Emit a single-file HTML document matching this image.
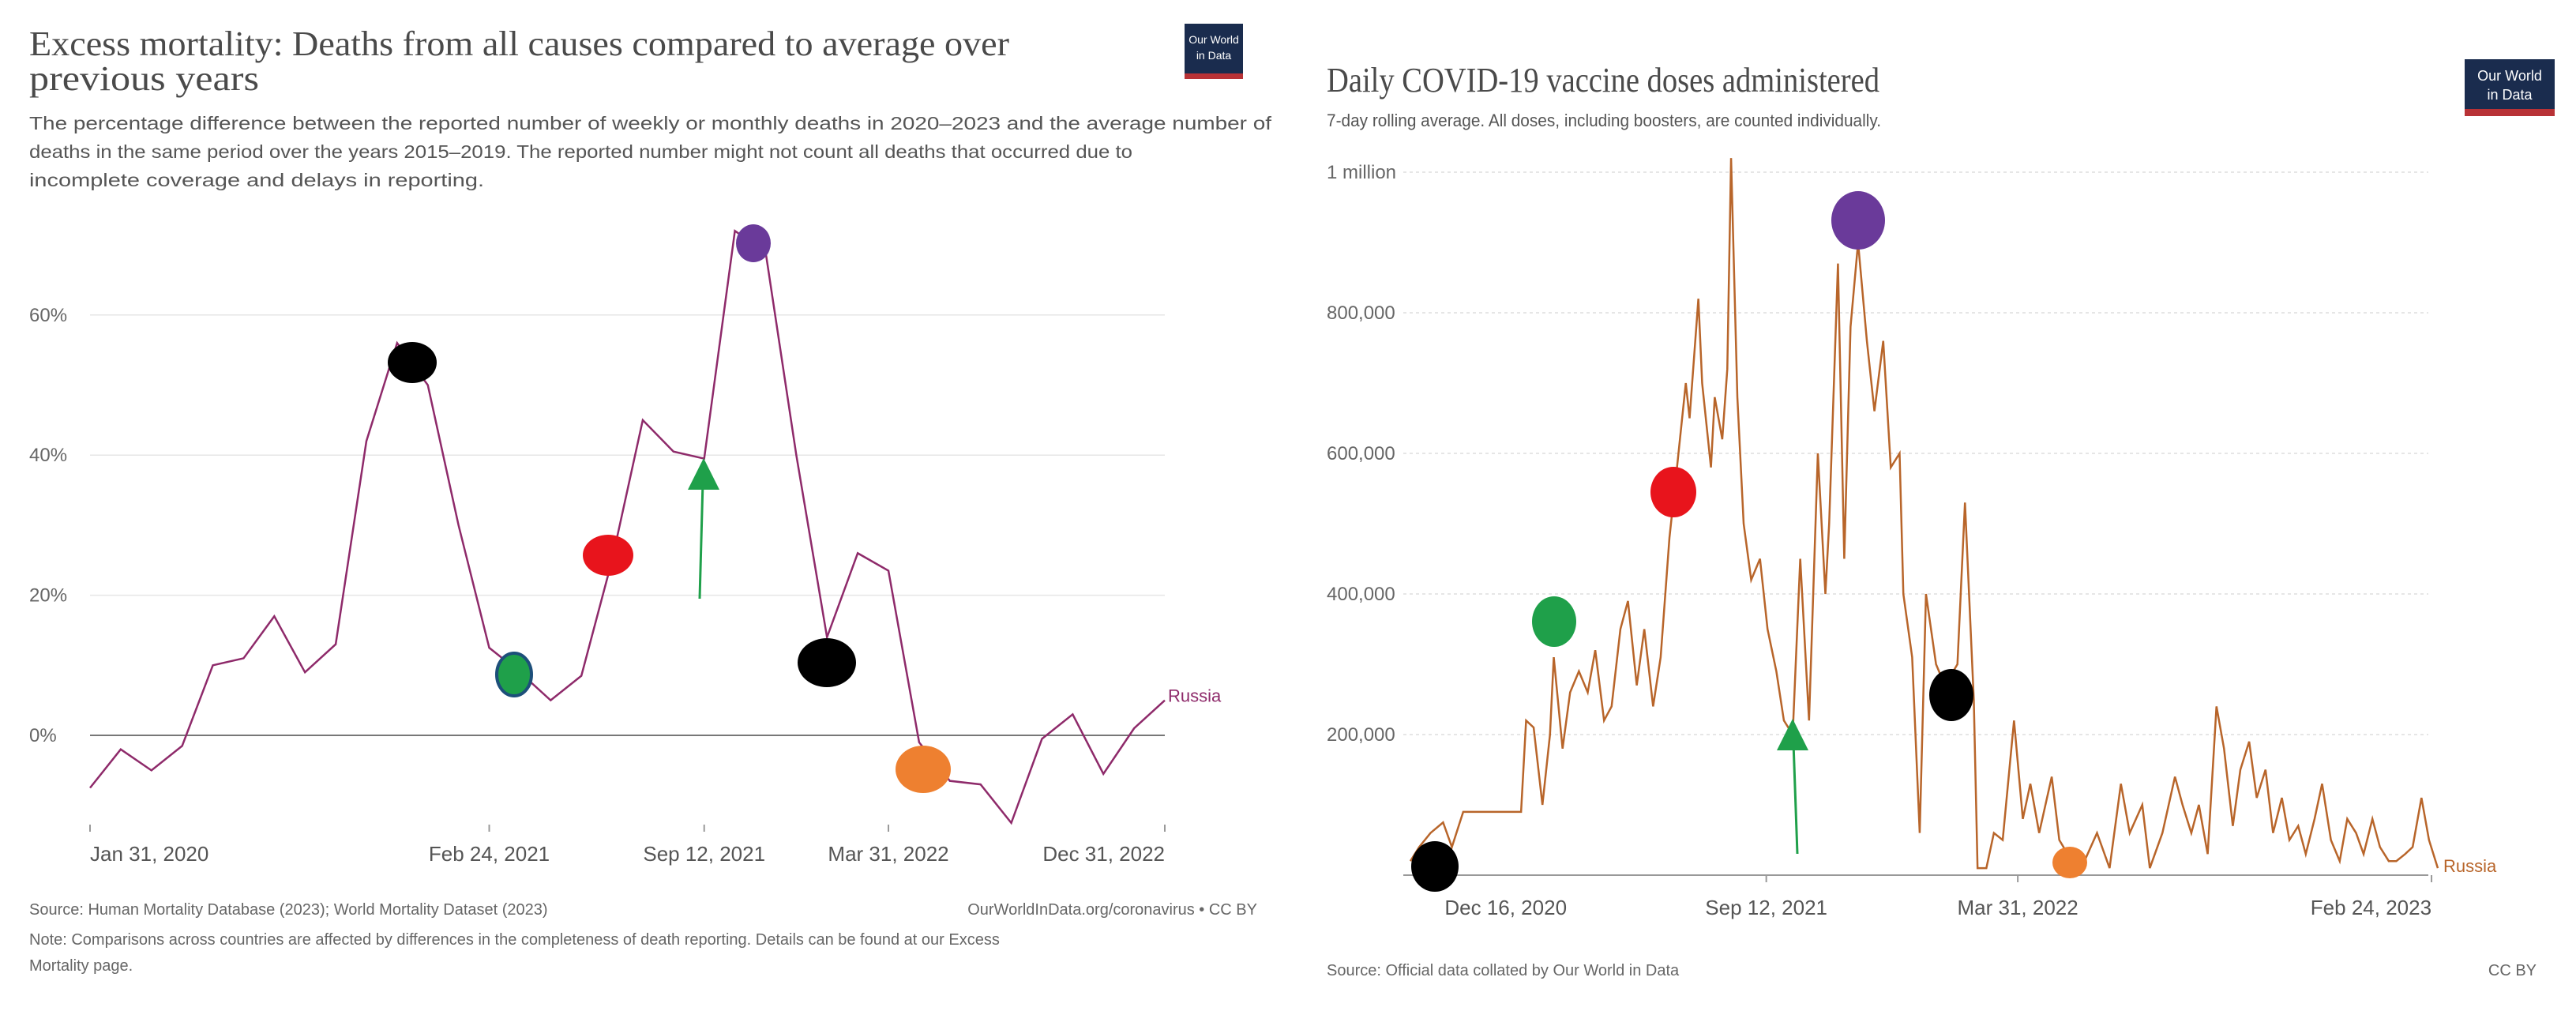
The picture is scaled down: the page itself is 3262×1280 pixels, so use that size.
<!DOCTYPE html>
<html><head><meta charset="utf-8">
<style>
html,body{margin:0;padding:0;background:#fff;}
body{width:3262px;height:1280px;position:relative;overflow:hidden;font-family:"Liberation Sans",sans-serif;}
svg{position:absolute;left:0;top:0;}
</style></head>
<body>
<svg id="c" width="3262" height="1280" viewBox="0 0 3262 1280">
  <!-- LEFT PANEL -->
  <g>
    <text x="37" y="70" font-family="Liberation Serif, serif" font-size="44" fill="#4a4a4a" textLength="1241" lengthAdjust="spacingAndGlyphs">Excess mortality: Deaths from all causes compared to average over</text>
    <text x="37" y="114" font-family="Liberation Serif, serif" font-size="44" fill="#4a4a4a" textLength="291" lengthAdjust="spacingAndGlyphs">previous years</text>
    <text x="37" y="164" font-size="23" fill="#555" textLength="1573" lengthAdjust="spacingAndGlyphs">The percentage difference between the reported number of weekly or monthly deaths in 2020–2023 and the average number of</text>
    <text x="37" y="200" font-size="23" fill="#555" textLength="1397" lengthAdjust="spacingAndGlyphs">deaths in the same period over the years 2015–2019. The reported number might not count all deaths that occurred due to</text>
    <text x="37" y="236" font-size="23" fill="#555" textLength="576" lengthAdjust="spacingAndGlyphs">incomplete coverage and delays in reporting.</text>
    <g>
      <rect x="1500" y="30" width="74" height="70" fill="#1a2c4e"/>
      <rect x="1500" y="93" width="74" height="7" fill="#b83236"/>
      <text x="1537" y="55" font-size="14" fill="#fff" text-anchor="middle">Our World</text>
      <text x="1537" y="75" font-size="14" fill="#fff" text-anchor="middle">in Data</text>
    </g>
    <g id="leftGrid"></g>
    <g id="leftPlot"></g>
    <text x="37" y="1158" font-size="20" fill="#666">Source: Human Mortality Database (2023); World Mortality Dataset (2023)</text>
    <text x="1592" y="1158" font-size="20" fill="#666" text-anchor="end">OurWorldInData.org/coronavirus • CC BY</text>
    <text x="37" y="1196" font-size="20" fill="#666">Note: Comparisons across countries are affected by differences in the completeness of death reporting. Details can be found at our Excess</text>
    <text x="37" y="1229" font-size="20" fill="#666">Mortality page.</text>
  </g>
  <!-- RIGHT PANEL -->
  <g>
    <text x="1680" y="116" font-family="Liberation Serif, serif" font-size="44" fill="#4a4a4a" textLength="700" lengthAdjust="spacingAndGlyphs">Daily COVID-19 vaccine doses administered</text>
    <text x="1680" y="160" font-size="22" fill="#555" textLength="702" lengthAdjust="spacingAndGlyphs">7-day rolling average. All doses, including boosters, are counted individually.</text>
    <g>
      <rect x="3121" y="75" width="114" height="72" fill="#1a2c4e"/>
      <rect x="3121" y="138" width="114" height="9" fill="#b83236"/>
      <text x="3178" y="102" font-size="18" fill="#fff" text-anchor="middle">Our World</text>
      <text x="3178" y="126" font-size="18" fill="#fff" text-anchor="middle">in Data</text>
    </g>
    <g id="rightGrid"></g>
    <g id="rightPlot"></g>
    <text x="1680" y="1235" font-size="20" fill="#666">Source: Official data collated by Our World in Data</text>
    <text x="3212" y="1235" font-size="20" fill="#666" text-anchor="end">CC BY</text>
  </g>
</svg>
<script>
// ---- Left chart data (monthly excess mortality %, Russia, Jan 2020 - Dec 2022)
const leftMonths = ["2020-01","2020-02","2020-03","2020-04","2020-05","2020-06","2020-07","2020-08","2020-09","2020-10","2020-11","2020-12","2021-01","2021-02","2021-03","2021-04","2021-05","2021-06","2021-07","2021-08","2021-09","2021-10","2021-11","2021-12","2022-01","2022-02","2022-03","2022-04","2022-05","2022-06","2022-07","2022-08","2022-09","2022-10","2022-11","2022-12"];
const leftValues = [-7.5,-2,-5,-1.5,10,11,17,9,13,42,56,50,30,12.5,9,5,8.5,25,45,40.5,39.5,72,69,40,14,26,23.5,-1,-6.5,-7,-12.5,-0.5,3,-5.5,1,5];
const leftYTicks = [0,20,40,60];
const leftYTickLabels = ["0%","20%","40%","60%"];
const leftXTickIdx = [0,13,20,26,35];
const leftXTickLabels = ["Jan 31, 2020","Feb 24, 2021","Sep 12, 2021","Mar 31, 2022","Dec 31, 2022"];

// ---- Right chart data (7-day avg doses, thousands; day offset from early Dec 2020)
const rightDays = [0,7,16,26,33,42,88,92,98,105,111,114,121,127,134,141,147,154,160,167,173,180,186,193,199,206,212,219,222,229,232,239,242,248,252,255,260,265,271,278,284,291,297,304,310,317,324,330,333,340,345,350,356,363,369,376,382,389,392,399,405,410,418,425,435,441,448,451,458,464,471,480,487,493,500,510,516,526,536,546,556,565,572,582,588,598,608,614,621,627,634,641,647,654,660,667,673,680,686,693,699,706,712,719,725,732,739,745,752,758,765,771,778,784,791,797,804,810,817];
const rightValues = [20,40,60,75,40,90,90,220,210,100,200,310,180,260,290,260,320,220,240,350,390,270,350,240,310,480,580,700,650,820,700,580,680,620,720,1020,680,500,420,450,350,290,220,200,450,220,600,400,500,870,450,780,900,760,660,760,580,600,400,310,60,400,300,270,300,530,250,10,10,60,50,220,80,130,60,140,50,20,20,60,10,130,60,100,10,60,140,100,60,100,30,240,180,70,150,190,110,150,60,110,50,70,30,80,130,50,20,80,60,30,80,40,20,20,30,40,110,50,10];
const rightYTicks = [0,200,400,600,800,1000];
const rightYTickLabels = ["","200,000","400,000","600,000","800,000","1 million"];
const rightXTickDays = [13,283,483,812];
const rightXTickLabels = ["Dec 16, 2020","Sep 12, 2021","Mar 31, 2022","Feb 24, 2023"];

const NS="http://www.w3.org/2000/svg";
function mk(parent,tag,attrs){const e=document.createElementNS(NS,tag);for(const k in attrs)e.setAttribute(k,attrs[k]);parent.appendChild(e);return e;}

// Left axes
const lx = i => 114 + i*(1475-114)/(leftMonths.length-1);
const ly = v => 931 - v*8.87;
const lg=document.getElementById('leftGrid');
leftYTicks.forEach((t,i)=>{
  const l=mk(lg,'line',{x1:114,x2:1475,y1:ly(t),y2:ly(t),stroke:t===0?'#777':'#e6e6e6','stroke-width':t===0?2:1.5});
  
  
  const tx=mk(lg,'text',{x:37,y:ly(t)+8,'font-size':24,fill:'#666'});
  tx.textContent=leftYTickLabels[i];
  
  
});
leftXTickIdx.forEach((idx,i)=>{
  const x=lx(idx);
  const tk=mk(lg,'line',{x1:x,x2:x,y1:1044,y2:1053,stroke:'#999','stroke-width':2});
  
  
  const anchor = i===0?'start':(i===leftXTickIdx.length-1?'end':'middle');
  const tx=mk(lg,'text',{x:x,y:1090,'font-size':26,fill:'#555','text-anchor':anchor});
  tx.textContent=leftXTickLabels[i];
  
  
});
const lp=document.getElementById('leftPlot');
const lpath=mk(lp,'polyline',{points:leftValues.map((v,i)=>lx(i)+','+ly(v)).join(' '),fill:'none',stroke:'#8e2a6a','stroke-width':2.5});


const llab=mk(lp,'text',{x:lx(35)+4,y:ly(5)+2,'font-size':22,fill:'#8e2a6a'});
llab.textContent='Russia';



// Left annotations
function ell(g,cx,cy,rx,ry,fill,name,stroke){const e=mk(g,'ellipse',{cx,cy,rx,ry,fill});if(stroke){e.setAttribute('stroke',stroke);e.setAttribute('stroke-width',4);}return e;}
ell(lp,522,459,31,26,'#000','left-black-marker-1');
ell(lp,651,854,22,27,'#1fa04a','left-green-marker','#1d4f7a');
ell(lp,770,703,32,26,'#e8141c','left-red-marker');
ell(lp,954,308,22,24,'#6a3a9a','left-purple-marker');
ell(lp,1047,839,37,31,'#000','left-black-marker-2');
ell(lp,1169,974,35,30,'#ee8030','left-orange-marker');
const la=mk(lp,'g',{});


mk(la,'line',{x1:886,y1:758,x2:890,y2:610,stroke:'#1fa04a','stroke-width':3});
mk(la,'polygon',{points:'891,580 871,620 911,620',fill:'#1fa04a'});

// Right axes
const rx = d => 1786 + d*(3087-1786)/817;
const ry = v => 1108 - v*0.89;
const rg=document.getElementById('rightGrid');
rightYTicks.forEach((t,i)=>{
  const l=mk(rg,'line',{x1:1777,x2:3075,y1:ry(t),y2:ry(t),stroke:t===0?'#999':'#ddd','stroke-width':t===0?2:1.5,'stroke-dasharray':t===0?'none':'4,4'});
  
  
  const tx=mk(rg,'text',{x:1680,y:ry(t)+8,'font-size':24,fill:'#666'});
  tx.textContent=rightYTickLabels[i];
  
  
});
rightXTickDays.forEach((d,i)=>{
  const x=rx(d);
  const tk=mk(rg,'line',{x1:x,x2:x,y1:1108,y2:1117,stroke:'#999','stroke-width':2});
  
  
  const anchor = i===rightXTickDays.length-1?'end':'middle';
  const tx=mk(rg,'text',{x:i===0?x+100:x,y:1158,'font-size':26,fill:'#555','text-anchor':anchor});
  tx.textContent=rightXTickLabels[i];
  
  
});
const rp=document.getElementById('rightPlot');
const rpath=mk(rp,'polyline',{points:rightValues.map((v,i)=>rx(rightDays[i])+','+ry(v)).join(' '),fill:'none',stroke:'#b8652a','stroke-width':2.5});


const rlab=mk(rp,'text',{x:3094,y:1104,'font-size':22,fill:'#b8652a'});
rlab.textContent='Russia';



ell(rp,1817,1097,30,32,'#000','right-black-marker-1');
ell(rp,1968,787,28,32,'#1fa04a','right-green-marker');
ell(rp,2119,623,29,32,'#e8141c','right-red-marker');
ell(rp,2353,279,34,37,'#6a3a9a','right-purple-marker');
ell(rp,2471,880,28,33,'#000','right-black-marker-2');
ell(rp,2621,1092,22,20,'#ee8030','right-orange-marker');
const ra=mk(rp,'g',{});


mk(ra,'line',{x1:2276,y1:1081,x2:2271,y2:940,stroke:'#1fa04a','stroke-width':3});
mk(ra,'polygon',{points:'2270,910 2250,950 2290,950',fill:'#1fa04a'});
</script>
</body></html>
